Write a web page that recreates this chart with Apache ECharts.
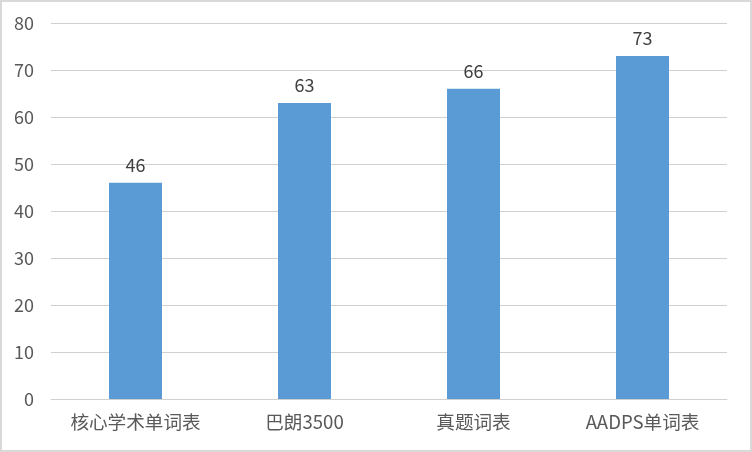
<!DOCTYPE html>
<html>
<head>
<meta charset="utf-8">
<script src="https://cdn.jsdelivr.net/npm/echarts@6/dist/echarts.min.js"></script>
<style>
html,body{margin:0;padding:0;background:#fff;}
#chart{position:absolute;left:0;top:0;width:752px;height:452px;}
#frame{position:absolute;left:0;top:0;width:752px;height:452px;box-sizing:border-box;border:2px solid #d9d9d9;pointer-events:none;}
</style>
</head>
<body>
<div id="chart"></div>
<div id="frame"></div>
<script>
const categories = ['核心学术单词表', '巴朗3500', '真题词表', 'AADPS单词表'];
const values = [46, 63, 66, 73];
const yTicks = [0, 10, 20, 30, 40, 50, 60, 70, 80];

const font = '"Microsoft YaHei", "Noto Sans CJK SC", sans-serif';
const chart = echarts.init(document.getElementById('chart'));
chart.setOption({
  animation: false,
  backgroundColor: '#fff',
  grid: { left: 51, right: 25, top: 23, bottom: 53, containLabel: false },
  xAxis: {
    type: 'category',
    data: categories,
    axisLine: { show: true, lineStyle: { color: '#d0d0d0', width: 1 } },
    axisTick: { show: false },
    axisLabel: { color: '#595959', fontSize: 18.6, fontFamily: font, margin: 14, interval: 0, hideOverlap: false }
  },
  yAxis: {
    type: 'value',
    min: yTicks[0],
    max: yTicks[yTicks.length - 1],
    interval: 10,
    axisLine: { show: false },
    axisTick: { show: false },
    axisLabel: { color: '#595959', fontSize: 18, fontFamily: font, margin: 17 },
    splitLine: { lineStyle: { color: '#d0d0d0', width: 1 } }
  },
  series: [{
    type: 'bar',
    data: values,
    barWidth: 53,
    itemStyle: { color: '#5b9bd5' },
    label: { show: true, position: 'top', distance: 9, color: '#404040', fontSize: 18, fontFamily: font }
  }]
});
</script>
</body>
</html>
